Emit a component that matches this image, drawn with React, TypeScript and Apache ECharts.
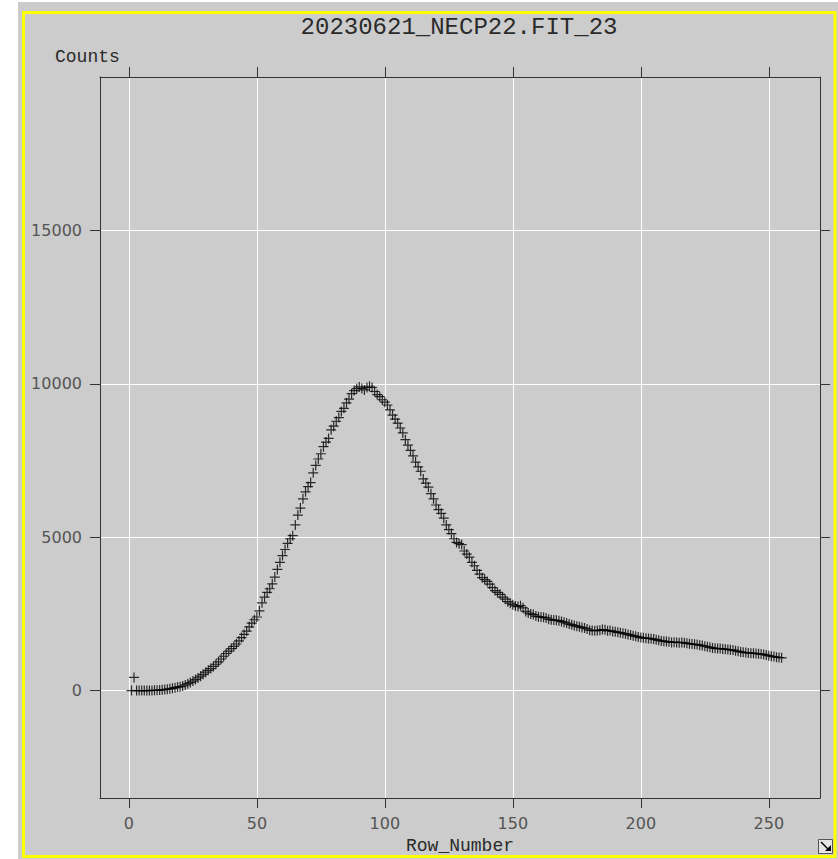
import React, { useEffect, useRef } from "react";
import * as echarts from "echarts";

const titleText = "20230621_NECP22.FIT_23";
const xAxisName = "Row_Number";
const yAxisName = "Counts";
const xTicks = [0, 50, 100, 150, 200, 250];
const yTicks = [0, 5000, 10000, 15000];
const firstRow = 1;

const counts = [
  0, 430, 0, 0, 0, 0, 0, 2, 5, 8,
  12, 18, 25, 35, 48, 60, 75, 95, 115, 130,
  150, 185, 225, 265, 310, 360, 415, 470, 530, 600,
  660, 720, 790, 860, 940, 1030, 1120, 1210, 1290, 1370,
  1440, 1520, 1620, 1730, 1830, 1940, 2080, 2200, 2310, 2400,
  2600, 2860, 3050, 3200, 3320, 3480, 3700, 3950, 4180, 4400,
  4600, 4800, 4950, 5050, 5400, 5720, 5950, 6250, 6480, 6650,
  6780, 7100, 7340, 7550, 7720, 7950, 8100, 8220, 8500, 8620,
  8780, 8900, 9100, 9200, 9380, 9500, 9680, 9780, 9840, 9900,
  9850, 9800, 9880, 9920, 9880, 9750, 9650, 9580, 9480, 9400,
  9310, 9150, 8980, 8850, 8720, 8560, 8400, 8180, 8000, 7830,
  7650, 7450, 7290, 7150, 6900, 6760, 6630, 6420, 6250, 6050,
  5900, 5780, 5620, 5400, 5250, 5120, 4950, 4830, 4790, 4760,
  4550, 4450, 4350, 4180, 4070, 3920, 3800, 3680, 3620, 3560,
  3470, 3360, 3260, 3200, 3140, 3050, 2980, 2900, 2850, 2800,
  2760, 2740, 2770, 2700, 2580, 2530, 2500, 2480, 2430, 2410,
  2400, 2390, 2370, 2330, 2310, 2300, 2290, 2280, 2250, 2230,
  2200, 2170, 2150, 2120, 2100, 2080, 2060, 2040, 2010, 1970,
  1960, 1950, 1960, 1970, 1990, 1980, 1950, 1960, 1930, 1920,
  1900, 1890, 1870, 1850, 1830, 1810, 1790, 1770, 1750, 1730,
  1720, 1710, 1700, 1690, 1680, 1660, 1640, 1620, 1610, 1600,
  1590, 1570, 1580, 1570, 1560, 1570, 1560, 1540, 1530, 1520,
  1510, 1500, 1480, 1470, 1450, 1430, 1410, 1390, 1380, 1370,
  1370, 1360, 1350, 1340, 1330, 1320, 1300, 1280, 1260, 1250,
  1240, 1230, 1220, 1220, 1210, 1200, 1190, 1180, 1160, 1140,
  1120, 1110, 1090, 1080, 1070,
];

const X_MIN = -11.3;
const X_MAX = 270;
const Y_MIN = -3500;
const Y_MAX = 20000;

const AXIS_COLOR = "#333333";
const LABEL_COLOR = "#555555";
const TEXT_COLOR = "#2a2a2a";
const BG = "#cccccc";

export default function App() {
  const ref = useRef<HTMLDivElement>(null);

  useEffect(() => {
    if (!ref.current) return;
    const chart = echarts.init(ref.current, null, { renderer: "svg" });
    const data = counts.map((v, i) => [i + firstRow, v]);

    const axisLine = { show: true, onZero: false, lineStyle: { color: AXIS_COLOR, width: 1 } };
    const tickStyle = { color: AXIS_COLOR, width: 1 };
    const plain = (v: number) => String(v);

    chart.setOption({
      animation: false,
      backgroundColor: BG,
      grid: { left: 100, right: 18, top: 77, bottom: 61, containLabel: false, show: false },
      xAxis: [
        {
          type: "value",
          position: "bottom",
          min: X_MIN,
          max: X_MAX,
          axisLine,
          axisTick: { show: true, inside: false, length: 10, customValues: xTicks, lineStyle: tickStyle },
          axisLabel: {
            customValues: xTicks,
            formatter: plain,
            margin: 17,
            color: LABEL_COLOR,
            fontFamily: "DejaVu Sans",
            fontSize: 16,
          },
          splitLine: { show: true, lineStyle: { color: "#ffffff", width: 1 } },
        },
        {
          type: "value",
          position: "top",
          min: X_MIN,
          max: X_MAX,
          axisLine,
          axisTick: { show: true, inside: false, length: 10, customValues: xTicks, lineStyle: tickStyle },
          axisLabel: { show: false },
          splitLine: { show: false },
        },
      ],
      yAxis: [
        {
          type: "value",
          position: "left",
          min: Y_MIN,
          max: Y_MAX,
          axisLine,
          axisTick: { show: true, inside: false, length: 10, customValues: yTicks, lineStyle: tickStyle },
          axisLabel: {
            customValues: yTicks,
            formatter: plain,
            margin: 18,
            color: LABEL_COLOR,
            fontFamily: "DejaVu Sans",
            fontSize: 16,
          },
          splitLine: { show: true, lineStyle: { color: "#ffffff", width: 1 } },
        },
        {
          type: "value",
          position: "right",
          min: Y_MIN,
          max: Y_MAX,
          axisLine,
          axisTick: { show: true, inside: false, length: 10, customValues: yTicks, lineStyle: tickStyle },
          axisLabel: { show: false },
          splitLine: { show: false },
        },
      ],
      series: [
        {
          type: "scatter",
          xAxisIndex: 0,
          yAxisIndex: 0,
          data,
          symbol: "path://M5,0L5,10M0,5L10,5",
          symbolSize: [10, 10],
          itemStyle: { color: "rgba(0,0,0,0)", borderColor: "#000000", borderWidth: 1.2 },
          emphasis: { disabled: true },
          z: 5,
        },
      ],
      graphic: [
        { type: "rect", shape: { x: 0, y: 0, width: 18, height: 859 }, style: { fill: "#ffffff" }, silent: true },
        { type: "rect", shape: { x: 0, y: 0, width: 838, height: 2 }, style: { fill: "#ffffff" }, silent: true },
        {
          type: "rect",
          shape: { x: 23.5, y: 12.5, width: 811.5, height: 844 },
          style: { fill: "none", stroke: "#ffff00", lineWidth: 3 },
          silent: true,
        },
        {
          type: "text",
          x: 459,
          y: 27,
          style: {
            text: titleText,
            font: '24px "Liberation Mono"',
            fill: TEXT_COLOR,
            align: "center",
            verticalAlign: "middle",
            textAlign: "center",
            textVerticalAlign: "middle",
          },
          silent: true,
        },
        {
          type: "text",
          x: 55,
          y: 57,
          style: {
            text: yAxisName,
            font: '18px "Liberation Mono"',
            fill: TEXT_COLOR,
            align: "left",
            verticalAlign: "middle",
            textAlign: "left",
            textVerticalAlign: "middle",
          },
          silent: true,
        },
        {
          type: "text",
          x: 460,
          y: 846,
          style: {
            text: xAxisName,
            font: '18px "Liberation Mono"',
            fill: TEXT_COLOR,
            align: "center",
            verticalAlign: "middle",
            textAlign: "center",
            textVerticalAlign: "middle",
          },
          silent: true,
        },
        {
          type: "rect",
          shape: { x: 818.5, y: 839.5, width: 14, height: 14 },
          style: { fill: "#e4e4e4", stroke: "#555555", lineWidth: 1 },
          silent: true,
        },
        {
          type: "line",
          shape: { x1: 821, y1: 842, x2: 829, y2: 850 },
          style: { stroke: "#000000", lineWidth: 1.5 },
          silent: true,
        },
        {
          type: "polygon",
          shape: { points: [[831, 851], [831, 845], [825, 851]] },
          style: { fill: "#000000" },
          silent: true,
        },
      ],
    });

    return () => chart.dispose();
  }, []);

  return (
    <div
      ref={ref}
      style={{ position: "absolute", left: 0, top: 0, width: 838, height: 859 }}
    />
  );
}
